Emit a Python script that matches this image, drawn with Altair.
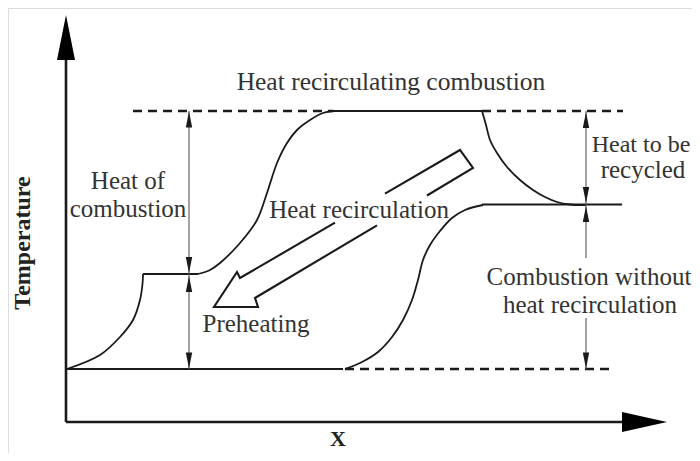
import altair as alt
import pandas as pd

# ---- schematic data (position along X, temperature level) in drawing units ----
T_LOW, T_MID, T_HIGH, T_STEP = 369, 204.5, 111, 274

# left preheating curve
left_x = [67, 100, 120, 133, 140, 142.5, 143]
left_y = [369, 355, 337, 320, 300, 284, 274]
# upper S curve (heat recirculating combustion)
up_x = [198, 210, 220, 240, 257, 267, 277, 287, 297, 310, 323, 335]
up_y = [274, 270, 263, 243, 220, 193, 163, 143, 130, 120, 113, 111]
# lower S curve (combustion without heat recirculation)
lo_x = [345, 362, 378, 392, 403, 412, 418, 423, 430, 440, 452, 465, 483]
lo_y = [369, 362, 352, 337, 320, 300, 280, 260, 245, 231, 218, 210, 205]
# right cooling curve (heat to be recycled)
rc_x = [482, 486, 490, 497, 507, 520, 533, 545, 557, 570, 586]
rc_y = [111, 125, 140, 153, 167, 180, 190, 197, 202, 204.5, 205]

# straight solid segments: (seg, x, y)
solid_segs = {
    "base": ([67, 343], [T_LOW, T_LOW]),
    "step": ([143, 198], [T_STEP, T_STEP]),
    "top": ([333, 482], [T_HIGH, T_HIGH]),
    "mid": ([482, 622], [T_MID, T_MID]),
}
dashed_segs = {
    "top_l": ([133, 333], [T_HIGH, T_HIGH]),
    "top_r": ([482, 623], [T_HIGH, T_HIGH]),
    "base_r": ([345, 615], [T_LOW, T_LOW]),
}
dim_segs = {
    "d1": ([189, 189], [T_HIGH, T_LOW]),
    "d2a": ([586, 586], [T_HIGH, 258]),
    "d2b": ([586, 586], [318, T_LOW]),
}
axis_segs = {
    "yaxis": ([66, 66], [422, 40]),
    "xaxis": ([66, 640], [422, 422]),
}
# hollow arrow outline (broken by its label)
arrow_segs = {
    "a1": ([385, 460, 473, 427], [193.6, 150, 168, 195.5]),
    "a2": ([335, 240, 237, 214, 258, 255, 377], [222.7, 278, 272, 307, 307, 298, 225.3]),
}

# arrow heads: tip positions
heads_up_x = [189, 189, 586, 586]
heads_up_y = [111.5, 276, 112, 206]
heads_dn_x = [189, 189, 586, 586]
heads_dn_y = [273, 368.5, 203, 368.5]

# labels
lab_text = ["Heat recirculating combustion", "Heat of", "combustion", "Heat recirculation",
            "Preheating", "Heat to be", "recycled", "Combustion without", "heat recirculation"]
lab_x = [391, 128, 128, 359, 256, 641, 643, 589, 590]
lab_y = [90, 189, 217, 218, 332, 152, 178, 285, 313]
lab_size = [25.5, 25, 25, 25, 25, 24, 25, 25, 25]


def seg_frame(segs):
    rows = []
    for name, (xs, ys) in segs.items():
        for i, (a, b) in enumerate(zip(xs, ys)):
            rows.append({"seg": name, "o": i, "x": a, "y": b})
    return pd.DataFrame(rows)


curves = seg_frame({"left": (left_x, left_y), "up": (up_x, up_y),
                    "lo": (lo_x, lo_y), "rc": (rc_x, rc_y)})

xs = alt.Scale(domain=[8, 692], nice=False, zero=False)
ys = alt.Scale(domain=[8, 453], nice=False, zero=False, reverse=True)
X = alt.X("x:Q", scale=xs, axis=None)
Y = alt.Y("y:Q", scale=ys, axis=None)
INK = "#1a1a1a"
FONT = "Liberation Serif"


def lines(df, **mk):
    return alt.Chart(df).mark_line(**mk).encode(
        x=X, y=Y, detail="seg:N", order="o:Q")


layer_curves = lines(curves, interpolate="catmull-rom", color=INK, strokeWidth=1.8)
layer_solid = lines(seg_frame(solid_segs), color=INK, strokeWidth=1.8)
layer_dash = lines(seg_frame(dashed_segs), color=INK, strokeWidth=2.6, strokeDash=[9, 6])
layer_dim = lines(seg_frame(dim_segs), color="#555555", strokeWidth=1.1)
layer_axis = lines(seg_frame(axis_segs), color=INK, strokeWidth=2.6)
layer_arrow = lines(seg_frame(arrow_segs), color=INK, strokeWidth=2.1, strokeJoin="miter")

up_df = pd.DataFrame({"x": heads_up_x, "y": heads_up_y})
dn_df = pd.DataFrame({"x": heads_dn_x, "y": heads_dn_y})
head_up = alt.Chart(up_df).mark_point(shape="M0,0 L0.4,2 L-0.4,2 Z", filled=True, size=256,
                                      color=INK, opacity=1, strokeWidth=0).encode(x=X, y=Y)
head_dn = alt.Chart(dn_df).mark_point(shape="M0,0 L0.4,-2 L-0.4,-2 Z", filled=True, size=256,
                                      color=INK, opacity=1, strokeWidth=0).encode(x=X, y=Y)
yax_head = alt.Chart(pd.DataFrame({"x": [66], "y": [15]})).mark_point(
    shape="M0,0 L0.4,2 L-0.4,2 Z", filled=True, size=2025, color="#000", opacity=1,
    strokeWidth=0).encode(x=X, y=Y)
xax_head = alt.Chart(pd.DataFrame({"x": [667], "y": [422]})).mark_point(
    shape="M0,0 L-2,-0.44 L-2,0.44 Z", filled=True, size=2025, color="#000", opacity=1,
    strokeWidth=0).encode(x=X, y=Y)

labels = alt.Chart(pd.DataFrame({"t": lab_text, "x": lab_x, "y": lab_y, "s": lab_size})).mark_text(
    font=FONT, color="#333333", align="center", baseline="alphabetic"
).encode(x=X, y=Y, text="t:N", size=alt.Size("s:Q", scale=None, legend=None))

ylab = alt.Chart(pd.DataFrame({"t": ["Temperature"], "x": [30], "y": [243]})).mark_text(
    font=FONT, fontSize=24, fontWeight="bold", color="#222222", angle=270,
    align="center", baseline="alphabetic").encode(x=X, y=Y, text="t:N")
xlab = alt.Chart(pd.DataFrame({"t": ["X"], "x": [338], "y": [451]})).mark_text(
    font=FONT, fontSize=22, fontWeight="bold", color="#222222",
    align="center", baseline="bottom").encode(x=X, y=Y, text="t:N")

chart = alt.layer(
    layer_dash, layer_solid, layer_curves, layer_dim, layer_axis, layer_arrow,
    head_up, head_dn, yax_head, xax_head, labels, ylab, xlab
).properties(
    width=684, height=445, padding=0, autosize=alt.AutoSizeParams(type="none")
).configure_view(stroke=None).configure(background="white")

chart.save("out.html", embed_options={"renderer": "svg", "actions": False})
